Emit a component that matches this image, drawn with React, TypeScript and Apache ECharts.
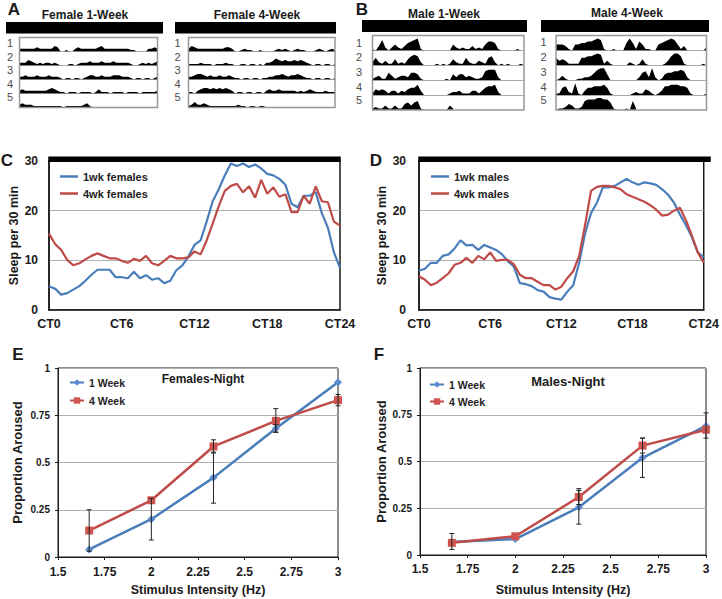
import React, { useEffect, useRef } from 'react';
import * as echarts from 'echarts';

const FONT = '"Liberation Sans", Arial, Helvetica, sans-serif';
const BLUE = '#4a7ebb';
const RED = '#be4b48';
const INK = '#1a1a1a';
const GRIDGRAY = '#b0b0b0';

// ---- Actograms (A, B): 48 half-hour bins per day, height on a 0-10 row scale ----
const actoBins = Array.from({ length: 48 }, (_, i) => String(i));

const female1wkDay1 = [2,2,2,2,2,2,3,2,2,2,2,2,4,3,0,0,1,0,0,2,3,2,2,2,2,2,2,3,4,2,2,2,2,2,2,2,2,2,1,1,0,0,0,0,2,2,3,2];
const female1wkDay2 = [2,2,2,4,3,2,1,2,1,2,2,1,2,1,0,0,0,1,1,0,1,2,2,2,3,2,2,2,3,2,2,2,3,2,2,2,2,2,1,0,0,1,2,1,2,1,2,3];
const female1wkDay3 = [2,2,3,2,2,2,3,2,2,2,3,2,2,2,1,0,1,1,0,1,1,0,1,2,3,3,2,2,3,2,2,2,3,3,3,2,2,2,1,0,1,1,0,1,1,0,1,2];
const female1wkDay4 = [2,3,2,2,2,2,2,2,2,2,3,4,3,2,1,1,0,1,1,1,0,1,1,1,1,0,1,3,1,1,1,0,1,1,1,1,0,1,1,1,1,0,1,1,1,1,1,2];
const female1wkDay5 = [2,3,2,2,2,1,1,1,1,1,1,1,1,1,1,0,1,1,1,1,1,1,2,3,1,0];

const female4wkDay1 = [2,4,3,2,2,2,2,2,2,2,2,2,3,3,2,0,0,1,2,1,1,0,0,1,0,0,0,0,1,2,1,2,1,0,1,2,1,1,0,0,0,1,2,1,0,1,2,1];
const female4wkDay2 = [1,1,1,1,2,1,1,1,0,1,1,1,2,1,1,0,0,1,1,0,1,1,0,1,0,2,2,3,5,4,3,4,3,3,4,3,4,3,2,1,0,1,1,0,1,1,0,1];
const female4wkDay3 = [2,2,3,4,4,3,2,3,2,2,3,2,2,3,2,1,1,0,1,1,0,1,1,0,1,1,2,2,3,3,4,3,2,3,3,4,3,2,1,1,0,1,1,0,1,1,0,1];
const female4wkDay4 = [1,1,0,2,3,4,4,3,4,3,4,3,4,3,2,0,1,1,0,1,1,0,1,1,0,2,3,2,2,3,2,2,2,2,2,1,2,1,2,3,2,1,1,1,2,1,1,1];
const female4wkDay5 = [1,2,4,2,2,3,2,1,1,1,1,1,1,1,1,1,2,1,1,0,1,1,0,1,1,0];

const male1wkDay1 = [1,0,3,7,2,0,2,4,2,1,3,5,6,7,8,1,0,0,0,0,0,0,0,0,0,4,2,1,2,1,1,3,1,2,1,4,6,6,5,1,0,0,0,0,0,1,0,0];
const male1wkDay2 = [2,5,2,1,3,1,1,4,1,2,1,4,6,7,6,2,0,0,0,0,1,0,1,0,1,4,2,1,1,5,2,1,1,3,2,1,5,6,2,0,1,0,1,0,0,0,1,0];
const male1wkDay3 = [1,2,3,1,1,5,3,1,2,3,3,2,5,5,4,1,0,0,0,0,0,0,0,1,0,4,2,4,4,2,3,2,1,1,2,6,7,7,7,2,0,0,0,0,0,0,0,0];
const male1wkDay4 = [1,4,3,4,3,1,3,3,1,3,2,4,5,5,7,3,0,0,0,0,0,0,0,0,1,2,2,3,1,1,1,3,3,1,3,5,6,6,7,2,0,0,0,0,0,0,0,0];
const male1wkDay5 = [1,2,1,1,3,1,1,3,1,1,4,5,3,5,6,1,0,0,0,0,0,0,0,0,3,1];

const male4wkDay1 = [4,4,4,3,1,0,4,4,5,5,6,6,7,8,7,1,0,0,1,0,0,0,5,8,5,1,6,4,1,1,0,0,4,5,6,7,8,7,4,1,3,0,0,0,0,0,0,2];
const male4wkDay2 = [5,3,4,3,1,1,1,1,5,5,6,6,7,8,7,1,3,1,0,0,0,0,0,2,1,0,1,4,1,0,0,0,0,0,1,3,6,8,8,6,1,0,0,0,0,0,1,0];
const male4wkDay3 = [0,1,3,1,0,0,0,1,1,2,2,3,5,7,8,8,4,0,0,0,0,0,0,0,0,0,2,5,6,2,8,2,0,1,4,5,5,6,6,7,6,2,0,0,0,0,0,0];
const male4wkDay4 = [1,1,5,6,2,1,8,1,0,3,5,5,6,6,6,7,5,1,0,0,0,0,0,0,1,2,1,1,4,3,1,0,1,3,6,6,7,7,7,6,6,5,1,0,0,0,0,1];
const male4wkDay5 = [0,1,1,2,4,3,1,1,2,6,7,7,7,8,8,7,7,5,1,0,0,0,1,0,6,1];

// ---- C / D: sleep per 30 min, half-hour bins CT0..CT24 ----
const sleep1wkFemales = [4.8,4.3,3.1,3.4,4.1,4.8,5.9,7.1,8.1,8.1,8.1,6.6,6.6,6.4,7.7,6.4,7.0,6.1,6.4,5.4,5.9,8.0,9.0,10.8,13.1,14.0,17.8,21.9,24.3,27.1,29.5,29.0,29.5,28.8,29.3,28.5,27.4,27.1,26.4,25.2,21.4,20.7,23.0,23.0,23.7,19.5,16.6,11.6,8.5];
const sleep4wkFemales = [15.4,13.3,12.1,10.1,9.0,9.4,10.2,10.9,11.4,10.9,10.4,10.4,9.9,9.5,10.3,9.9,10.9,9.4,9.0,9.9,10.9,10.4,10.4,10.6,11.8,11.2,14.0,17.4,20.9,24.0,25.0,25.4,23.7,24.9,22.6,26.2,23.4,24.7,22.8,23.3,19.7,19.7,23.0,21.4,24.9,21.9,21.7,17.8,17.0];
const sleep1wkMales = [7.9,8.3,9.5,9.5,10.9,11.2,12.4,14.0,13.0,13.1,12.1,13.1,12.6,12.1,11.2,9.8,8.7,5.4,5.2,4.8,4.0,3.7,2.6,2.3,2.1,3.7,5.0,9.5,15.4,19.5,21.6,24.7,24.7,25.0,25.7,26.4,25.7,25.2,25.7,25.5,25.2,24.3,23.2,21.6,19.2,17.1,14.7,11.6,10.6];
const sleep4wkMales = [6.8,6.1,5.0,5.5,6.4,7.4,9.1,9.5,10.5,9.5,10.9,10.2,11.6,9.9,10.1,10.1,9.2,7.1,6.4,6.4,5.7,5.0,5.0,4.1,4.7,6.4,7.8,10.9,17.1,24.0,24.8,25.0,25.0,24.7,24.3,23.3,22.8,22.3,21.8,21.1,20.2,19.0,19.2,20.0,20.6,18.1,15.0,11.6,9.5];

// ---- E / F: arousal vs stimulus intensity ----
const stimulusHz = [1.667, 2, 2.333, 2.667, 3];
const femalesNight1wk = [0.04, 0.20, 0.42, 0.68, 0.925];
const femalesNight4wk = [0.14, 0.30, 0.585, 0.72, 0.83];
const malesNight1wk = [0.07, 0.085, 0.255, 0.52, 0.69];
const malesNight4wk = [0.065, 0.10, 0.31, 0.585, 0.67];
// error bars: [x, low, high]
const femalesErr1wk = [[2, 0.09, 0.31], [2.333, 0.285, 0.555], [2.667, 0.66, 0.70]];
const femalesErr4wk = [[1.667, 0.03, 0.25], [2.333, 0.55, 0.62], [2.667, 0.66, 0.785], [3, 0.80, 0.86]];
const malesErr1wk = [[1.667, 0.03, 0.115], [2.333, 0.165, 0.345], [2.667, 0.415, 0.625], [3, 0.625, 0.76]];
const malesErr4wk = [[2.333, 0.27, 0.355], [2.667, 0.545, 0.625]];

function txt(t: string, x: number, y: number, size: number, weight = 'bold', fill = INK, align = 'center', rotation = 0) {
  return {
    type: 'text', x, y, rotation, silent: true, z: 20,
    style: { text: t, fill, font: `${weight} ${size}px ${FONT}`, textAlign: align, align, textVerticalAlign: 'middle', verticalAlign: 'middle' },
  };
}

function buildOption() {
  const grid: any[] = [];
  const xAxis: any[] = [];
  const yAxis: any[] = [];
  const series: any[] = [];
  const graphic: any[] = [];
  const legend: any[] = [];

  const actoPanels = [
    { title: 'Female 1-Week', rows: [female1wkDay1, female1wkDay2, female1wkDay3, female1wkDay4, female1wkDay5], box: [19.5, 37.5, 138, 70], bar: [6, 22, 157, 11.5], titleAt: [85, 15], labelX: 10, labelY: [43, 57, 70, 83.5, 97] },
    { title: 'Female 4-Week', rows: [female4wkDay1, female4wkDay2, female4wkDay3, female4wkDay4, female4wkDay5], box: [188.5, 37.5, 146.5, 70], bar: [175, 22, 161, 11.5], titleAt: [257, 14.5], labelX: 177.5, labelY: [43, 57, 70, 83.5, 97] },
    { title: 'Male 1-Week', rows: [male1wkDay1, male1wkDay2, male1wkDay3, male1wkDay4, male1wkDay5], box: [372.5, 35.5, 151.5, 74.5], bar: [362, 20, 165, 12], titleAt: [444, 14], labelX: 359, labelY: [43, 57, 71.5, 86.5, 100] },
    { title: 'Male 4-Week', rows: [male4wkDay1, male4wkDay2, male4wkDay3, male4wkDay4, male4wkDay5], box: [556, 35.5, 150.5, 74.5], bar: [541, 20, 168, 12], titleAt: [627, 13], labelX: 543.5, labelY: [42, 57, 71.5, 86.5, 100] },
  ];

  actoPanels.forEach((p) => {
    const [bx, by, bw, bh] = p.box;
    const rh = bh / p.rows.length;
    p.rows.forEach((row, r) => {
      const gi = grid.length;
      grid.push({ left: bx, top: by + r * rh, width: bw, height: rh });
      xAxis.push({
        gridIndex: gi, type: 'category', data: actoBins, boundaryGap: false,
        axisLine: { show: r < p.rows.length - 1, lineStyle: { color: '#aaa', width: 1 } },
        axisTick: { show: false }, axisLabel: { show: false }, splitLine: { show: false },
      });
      yAxis.push({ gridIndex: gi, type: 'value', min: 0, max: 10, show: false });
      series.push({
        type: 'line', xAxisIndex: gi, yAxisIndex: gi, data: row, symbol: 'none', silent: true,
        lineStyle: { width: 0, opacity: 0 }, areaStyle: { color: '#000', opacity: 1 },
      });
    });
    graphic.push({ type: 'rect', z: 15, silent: true, shape: { x: bx, y: by, width: bw, height: bh }, style: { fill: 'none', stroke: '#999', lineWidth: 1.5 } });
    graphic.push({ type: 'rect', z: 15, silent: true, shape: { x: p.bar[0], y: p.bar[1], width: p.bar[2], height: p.bar[3] }, style: { fill: '#000' } });
    graphic.push(txt(p.title, p.titleAt[0], p.titleAt[1], 12));
    p.labelY.forEach((ly, i) => graphic.push(txt(String(i + 1), p.labelX, ly, 11, 'normal', '#4d4d4d')));
  });

  // panel letters
  graphic.push(txt('A', 14, 9, 17));
  graphic.push(txt('B', 362, 9, 17));
  graphic.push(txt('C', 7, 160, 17));
  graphic.push(txt('D', 376, 160, 17));
  graphic.push(txt('E', 18, 354, 17));
  graphic.push(txt('F', 379, 354, 17));

  const axisText = (size: number) => ({ color: INK, fontFamily: FONT, fontWeight: 'bold', fontSize: size });

  // ---- C & D ----
  const sleepPanels = [
    { left: 49, width: 291, a: sleep1wkFemales, b: sleep4wkFemales, na: '1wk females', nb: '4wk females', yMargin: 11, nameGap: 25, legendLeft: 55 },
    { left: 419, width: 291, a: sleep1wkMales, b: sleep4wkMales, na: '1wk males', nb: '4wk males', yMargin: 13, nameGap: 28, legendLeft: 426 },
  ];
  sleepPanels.forEach((p) => {
    const gi = grid.length;
    grid.push({ left: p.left, top: 161, width: p.width, height: 149, show: true, borderColor: INK, borderWidth: 1.5 });
    xAxis.push({
      gridIndex: gi, type: 'value', min: 0, max: 24, interval: 6,
      axisLine: { show: true, onZero: false, lineStyle: { color: INK, width: 1.5 } },
      axisTick: { show: false }, splitLine: { show: false },
      axisLabel: { ...axisText(12.5), margin: 7, formatter: (v: number) => 'CT' + v },
    });
    yAxis.push({
      gridIndex: gi, type: 'value', min: 0, max: 30, interval: 10,
      axisLine: { show: true, lineStyle: { color: INK, width: 1.5 } },
      axisTick: { show: false },
      splitLine: { show: true, lineStyle: { color: GRIDGRAY, width: 1 } },
      axisLabel: { ...axisText(12), margin: p.yMargin },
      name: 'Sleep per 30 min', nameLocation: 'middle', nameGap: p.nameGap,
      nameTextStyle: axisText(12.5),
    });
    const toPts = (arr: number[]) => arr.map((v, i) => [i / 2, v]);
    series.push({ name: p.na, type: 'line', xAxisIndex: gi, yAxisIndex: gi, data: toPts(p.a), symbol: 'none', lineStyle: { color: BLUE, width: 2.2 }, itemStyle: { color: BLUE }, z: 3 });
    series.push({ name: p.nb, type: 'line', xAxisIndex: gi, yAxisIndex: gi, data: toPts(p.b), symbol: 'none', lineStyle: { color: RED, width: 2.2 }, itemStyle: { color: RED }, z: 4 });
    graphic.push({ type: 'rect', z: 15, silent: true, shape: { x: p.left - 0.75, y: 156.5, width: p.width + 1.5, height: 5.5 }, style: { fill: '#000' } });
    legend.push({
      data: [p.na, p.nb], left: p.legendLeft, top: 165, orient: 'vertical', selectedMode: false,
      icon: 'rect', itemWidth: 18, itemHeight: 2.5, itemGap: 4,
      textStyle: { ...axisText(11), color: '#222', lineHeight: 13 },
    });
  });

  // ---- E & F ----
  const errRender = (params: any, api: any) => {
    const x = api.value(0);
    const lo = api.coord([x, api.value(1)]);
    const hi = api.coord([x, api.value(2)]);
    const w = 2.5;
    const st = { stroke: '#222', lineWidth: 1 };
    return {
      type: 'group',
      children: [
        { type: 'line', shape: { x1: lo[0], y1: lo[1], x2: hi[0], y2: hi[1] }, style: st },
        { type: 'line', shape: { x1: lo[0] - w, y1: lo[1], x2: lo[0] + w, y2: lo[1] }, style: st },
        { type: 'line', shape: { x1: hi[0] - w, y1: hi[1], x2: hi[0] + w, y2: hi[1] }, style: st },
      ],
    };
  };

  const arousalPanels = [
    { left: 58, top: 368, width: 280, height: 189, a: femalesNight1wk, b: femalesNight4wk, ea: femalesErr1wk, eb: femalesErr4wk, title: 'Females-Night', titleAt: [203, 379], titleSize: 12, legendLeft: 64, legendTop: 372, yGap: 34, xGap: 26, xMargin: 9, legendGap: 7 },
    { left: 420, top: 368, width: 286, height: 187, a: malesNight1wk, b: malesNight4wk, ea: malesErr1wk, eb: malesErr4wk, title: 'Males-Night', titleAt: [568, 381], titleSize: 13, legendLeft: 424, legendTop: 374, yGap: 32, xGap: 28, xMargin: 8, legendGap: 6 },
  ];
  arousalPanels.forEach((p) => {
    const gi = grid.length;
    grid.push({ left: p.left, top: p.top, width: p.width, height: p.height, show: true, borderColor: INK, borderWidth: 1 });
    xAxis.push({
      gridIndex: gi, type: 'value', min: 1.5, max: 3, interval: 0.25,
      axisLine: { show: true, onZero: false, lineStyle: { color: INK, width: 1 } },
      axisTick: { show: true, length: 3, lineStyle: { color: INK } }, splitLine: { show: false },
      axisLabel: { ...axisText(12), margin: p.xMargin },
      name: 'Stimulus Intensity (Hz)', nameLocation: 'middle', nameGap: p.xGap, nameTextStyle: axisText(12.5),
    });
    yAxis.push({
      gridIndex: gi, type: 'value', min: 0, max: 1, interval: 0.25,
      axisLine: { show: true, lineStyle: { color: INK, width: 1 } },
      axisTick: { show: true, length: 3, lineStyle: { color: INK } },
      splitLine: { show: true, lineStyle: { color: GRIDGRAY, width: 1 } },
      axisLabel: { ...axisText(10), margin: 8 },
      name: 'Proportion Aroused', nameLocation: 'middle', nameGap: p.yGap, nameTextStyle: axisText(13),
    });
    const toPts = (arr: number[]) => arr.map((v, i) => [stimulusHz[i], v]);
    series.push({ name: '1 Week', type: 'line', xAxisIndex: gi, yAxisIndex: gi, data: toPts(p.a), symbol: 'diamond', symbolSize: 8, lineStyle: { color: BLUE, width: 2.5 }, itemStyle: { color: '#5b8bd0' }, z: 3 });
    series.push({ name: '4 Week', type: 'line', xAxisIndex: gi, yAxisIndex: gi, data: toPts(p.b), symbol: 'rect', symbolSize: 8, lineStyle: { color: RED, width: 2.5 }, itemStyle: { color: '#d05550' }, z: 4 });
    series.push({ type: 'custom', xAxisIndex: gi, yAxisIndex: gi, data: p.ea, encode: { x: 0, y: [1, 2] }, renderItem: errRender, silent: true, z: 5 });
    series.push({ type: 'custom', xAxisIndex: gi, yAxisIndex: gi, data: p.eb, encode: { x: 0, y: [1, 2] }, renderItem: errRender, silent: true, z: 5 });
    graphic.push(txt(p.title, p.titleAt[0], p.titleAt[1], p.titleSize));
    legend.push({
      data: ['1 Week', '4 Week'], left: p.legendLeft, top: p.legendTop, orient: 'vertical', selectedMode: false,
      itemWidth: 14, itemHeight: 8, itemGap: p.legendGap,
      textStyle: { ...axisText(10.5), color: '#222' },
    });
  });

  return {
    animation: false,
    backgroundColor: '#fff',
    textStyle: { fontFamily: FONT },
    grid, xAxis, yAxis, series, legend, graphic,
  };
}

export default function App() {
  const ref = useRef<HTMLDivElement>(null);
  useEffect(() => {
    if (!ref.current) return;
    const chart = echarts.init(ref.current, null, { renderer: 'svg' });
    chart.setOption(buildOption() as any);
    return () => chart.dispose();
  }, []);
  return <div ref={ref} style={{ position: 'fixed', left: 0, top: 0, width: 722, height: 599, background: '#fff' }} />;
}
